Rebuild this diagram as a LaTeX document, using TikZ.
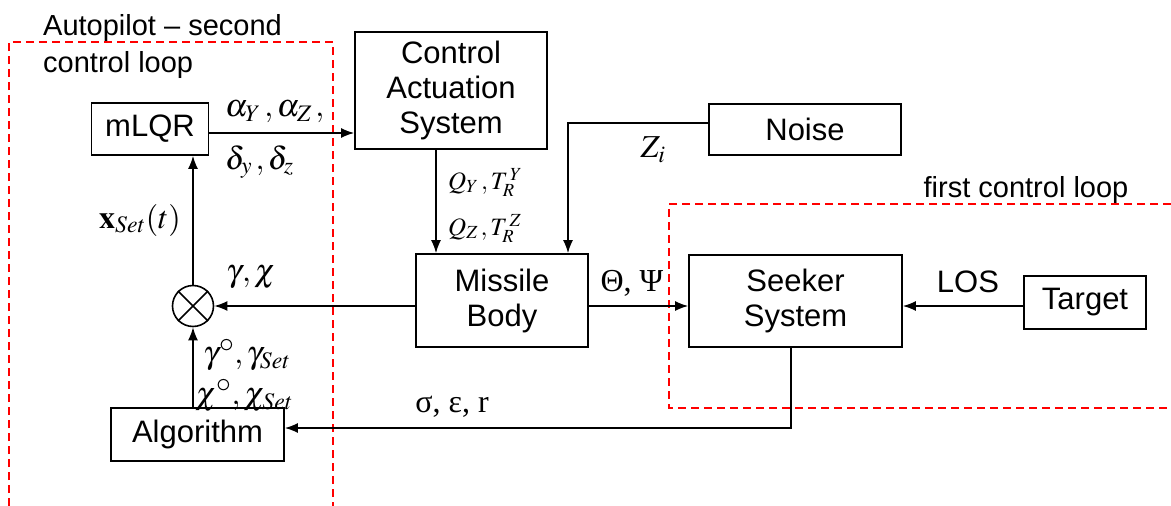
\documentclass[tikz,border=0pt]{standalone}
\usepackage{mathptmx}
\usepackage[no-math]{fontspec}
\setmainfont{Liberation Sans}
\newfontfamily\tnr{Liberation Serif}
\usetikzlibrary{arrows.meta}
\newcommand{\degring}{{\scalebox{1.25}{$\scriptstyle\circ$}}}
\begin{document}
\begin{tikzpicture}[x=1pt,y=-1pt,
  blk/.style={draw,line width=1.6pt,inner sep=0pt,align=center,font=\fontsize{31}{35}\selectfont},
  arr/.style={line width=1.6pt,-{Latex[length=13pt,width=10pt]}},
  ln/.style={line width=1.6pt},
  loop/.style={draw=red,line width=1.6pt,dash pattern=on 8pt off 5pt},
  mlab/.style={inner sep=0pt,font=\fontsize{32}{38}\selectfont},
  slab/.style={inner sep=0pt,font=\fontsize{25}{29}\selectfont},
  tlab/.style={inner sep=0pt,font=\fontsize{29}{37}\selectfont}]
\useasboundingbox (0,0) rectangle (1171,506);
% dashed loops
\draw[loop] (9,506) -- (9,42) -- (333,42) -- (333,506);
\draw[loop] (1171,204) -- (669,204) -- (669,408) -- (1171,408);
\node[tlab,anchor=west,align=left] (aptxt) at (43,47) {Autopilot -- second\\control loop};
\node[tlab] (fcl) at (1026,190) {first control loop};
% blocks
\node[blk,minimum width=117pt,minimum height=52pt] (mlqr) at (150,129) {mLQR};
\node[blk,minimum width=192pt,minimum height=117pt] (cas) at (451,90.5) {Control\\Actuation\\System};
\node[blk,minimum width=192pt,minimum height=51pt] (noise) at (805,129.5) {Noise};
\node[blk,minimum width=172pt,minimum height=93pt] (mb) at (502,300.5) {Missile\\Body};
\node[blk,minimum width=213pt,minimum height=92pt] (seek) at (795.5,301) {Seeker\\System};
\node[blk,minimum width=122pt,minimum height=53pt] (tgt) at (1085,302.5) {Target};
\node[blk,minimum width=173pt,minimum height=53pt] (alg) at (197.5,434.5) {Algorithm};
\node[draw,circle,line width=1.6pt,minimum size=41pt,inner sep=0pt] (circ) at (193,306) {};
\draw[ln] (circ.north west) -- (circ.south east) (circ.north east) -- (circ.south west);
% helper coordinates
\coordinate (ya) at (0,133);
\coordinate (xc) at (436,0);
\coordinate (nc) at (568,123);
\coordinate (sc) at (791,428);
% connectors
\draw[arr] (mlqr.east |- ya) -- (cas.west |- ya);
\draw[arr] (cas.south -| xc) -- (mb.north -| xc);
\draw[arr] (noise.west |- nc) -- (nc) -- (mb.north -| nc);
\draw[arr] (mb.west |- circ) -- (circ.east);
\draw[arr] (mb.east |- circ) -- (seek.west |- circ);
\draw[arr] (tgt.west |- circ) -- (seek.east |- circ);
\draw[arr] (seek.south -| sc) -- (sc) -- (alg.east |- sc);
\draw[arr] (alg.north -| circ) -- (circ.south);
\draw[arr] (circ.north) -- (mlqr.south -| circ);
% labels
\node[mlab,anchor=west] (la) at (225,112) {$\alpha_Y\,,\alpha_Z\,,$};
\node[mlab,anchor=west] (ld) at (225,162) {$\delta_y\,,\delta_z$};
\node[slab,anchor=west] (lq1) at (448,182) {$Q_Y\,,T_R^{\,Y}$};
\node[slab,anchor=west] (lq2) at (448,228) {$Q_Z\,,T_R^{\,Z}$};
\node[mlab] (lx) at (140,220) {$\mathbf{x}_{Set}(t)$};
\node[mlab] (lz) at (653,150) {$Z_i$};
\node[mlab,anchor=west] (lg) at (226,277) {$\gamma,\chi$};
\node[mlab,anchor=west] (lg2) at (203,355) {$\gamma^{\degring},\gamma_{Set}$};
\node[mlab,anchor=west] (lc2) at (195,396) {$\chi^{\degring},\chi_{Set}$};
\node[mlab] (ls) at (452,407) {\tnr σ, ε, r};
\node[mlab] (lt) at (632,283) {\tnr Θ, Ψ};
\node[blk,draw=none] (los) at (968,282) {LOS};
\end{tikzpicture}
\end{document}
